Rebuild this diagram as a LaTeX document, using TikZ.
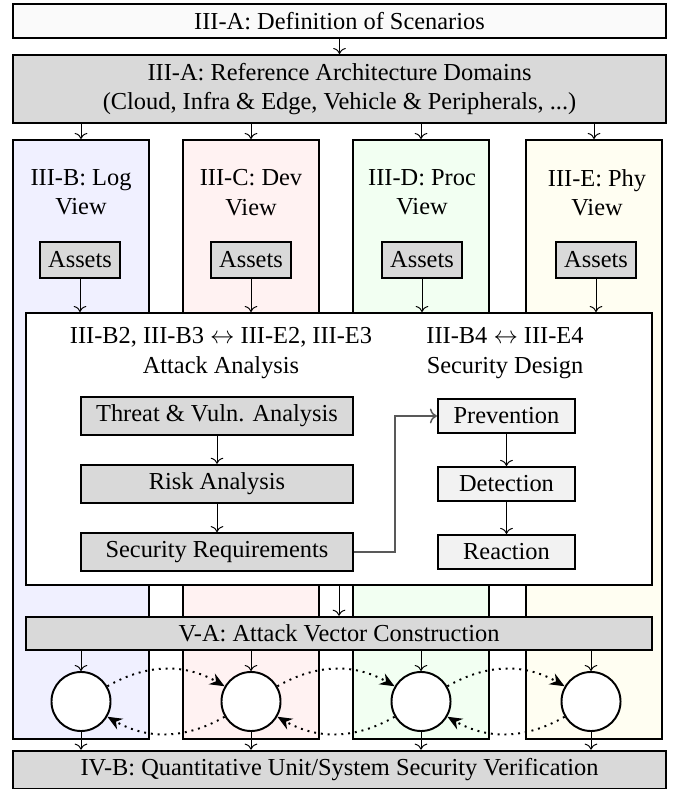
\documentclass[tikz,border=0pt]{standalone}
\usepackage{fontspec}
\setmainfont{Liberation Serif}
\usetikzlibrary{arrows.meta}
\begin{document}
\begin{tikzpicture}
[
    x=0.41pt, y=-0.41pt,
    widebox/.style={draw, thick, minimum width=267.7pt, minimum height=13.9pt},
    viewcol/.style={draw, thick, minimum width=55.8pt, minimum height=245.6pt},
    assetbox/.style={draw, thick, fill=gray!30, minimum height=14.4pt},
    analysisbox/.style={draw, thick, fill=gray!30, minimum width=111.5pt, minimum height=15.2pt},
    designbox/.style={draw, thick, fill=gray!10, minimum width=56.2pt, minimum height=14pt},
    vectorstate/.style={draw, thick, circle, fill=white, minimum size=24.2pt},
    flow/.style={->},
    feedback/.style={thick, dotted, -{Stealth[length=6pt,width=5pt]}},
]
\useasboundingbox (0,0) rectangle (678,789);
\node[widebox, fill=gray!4] (scenarios) at (339.5,21) {III-A: Definition of Scenarios};
\node[widebox, fill=gray!30, minimum height=27.1pt, align=center] (domains) at (339.5,89)
    {III-A: Reference Architecture Domains\\(Cloud, Infra \& Edge, Vehicle \& Peripherals, ...)};
\node[viewcol, fill=blue!6] (logview) at (81,439.5) {};
\node[viewcol, fill=red!5] (devview) at (251,439.5) {};
\node[viewcol, fill=green!5] (procview) at (421,439.5) {};
\node[viewcol, fill=yellow!5] (phyview) at (594,439.5) {};
\node[align=center] (logtitle) at (81,192.5) {III-B: Log\\View};
\node[align=center] (devtitle) at (251,192.5) {III-C: Dev\\View};
\node[align=center] (proctitle) at (422,192.5) {III-D: Proc\\View};
\node[align=center] (phytitle) at (597,192.5) {III-E: Phy\\View};
\node[assetbox] (logassets) at (80,260) {Assets};
\node[assetbox] (devassets) at (251,260) {Assets};
\node[assetbox] (procassets) at (422,260) {Assets};
\node[assetbox] (phyassets) at (596,260) {Assets};
\node[draw, thick, fill=white, minimum width=256.7pt, minimum height=111.5pt] (analysis) at (339,449) {};
\node[align=center] (attacktitle) at (221,353) {III-B2, III-B3 $\leftrightarrow$ III-E2, III-E3\\Attack Analysis};
\node[align=center] (designtitle) at (505,353) {III-B4 $\leftrightarrow$ III-E4\\Security Design};
\node[analysisbox] (threat) at (217,416) {Threat \& Vuln. Analysis};
\node[analysisbox] (risk) at (217,484) {Risk Analysis};
\node[analysisbox] (secreq) at (217,552) {Security Requirements};
\node[designbox] (prevention) at (506.5,416) {Prevention};
\node[designbox] (detection) at (506.5,484) {Detection};
\node[designbox] (reaction) at (506.5,552) {Reaction};
\node[draw, thick, fill=gray!30, minimum width=256.7pt, minimum height=13.5pt] (vector) at (339,633.5) {V-A: Attack Vector Construction};
\node[vectorstate] (logstate) at (81,701.5) {};
\node[vectorstate] (devstate) at (251,701.5) {};
\node[vectorstate] (procstate) at (421,701.5) {};
\node[vectorstate] (phystate) at (591,701.5) {};
\node[widebox, fill=gray!30] (verification) at (339.5,770) {IV-B: Quantitative Unit/System Security Verification};
\draw[flow] (scenarios.south) -- (domains.north);
\draw[flow] (logview.north |- domains.south) -- (logview.north);
\draw[flow] (devview.north |- domains.south) -- (devview.north);
\draw[flow] (procview.north |- domains.south) -- (procview.north);
\draw[flow] (phyview.north |- domains.south) -- (phyview.north);
\draw[flow] (logassets) -- (logassets |- analysis.north);
\draw[flow] (devassets) -- (devassets |- analysis.north);
\draw[flow] (procassets) -- (procassets |- analysis.north);
\draw[flow] (phyassets) -- (phyassets |- analysis.north);
\draw[flow] (threat) -- (risk);
\draw[flow] (risk) -- (secreq);
\draw[flow] (prevention) -- (detection);
\draw[flow] (detection) -- (reaction);
\draw[flow, black!65, semithick] (secreq.east) -- ++(41,0) |- (prevention.west);
\draw[flow] (analysis.south) -- (vector.north);
\draw[flow] (logstate |- vector.south) -- (logstate);
\draw[flow] (devstate |- vector.south) -- (devstate);
\draw[flow] (procstate |- vector.south) -- (procstate);
\draw[flow] (phystate |- vector.south) -- (phystate);
\draw[flow] (logstate) -- (logstate |- verification.north);
\draw[flow] (devstate) -- (devstate |- verification.north);
\draw[flow] (procstate) -- (procstate |- verification.north);
\draw[flow] (phystate) -- (phystate |- verification.north);
\draw[feedback] (logstate) to[bend left=30] (devstate);
\draw[feedback] (devstate) to[bend left=30] (procstate);
\draw[feedback] (procstate) to[bend left=30] (phystate);
\draw[feedback] (devstate) to[bend left=30] (logstate);
\draw[feedback] (procstate) to[bend left=30] (devstate);
\draw[feedback] (phystate) to[bend left=30] (procstate);
\end{tikzpicture}
\end{document}
